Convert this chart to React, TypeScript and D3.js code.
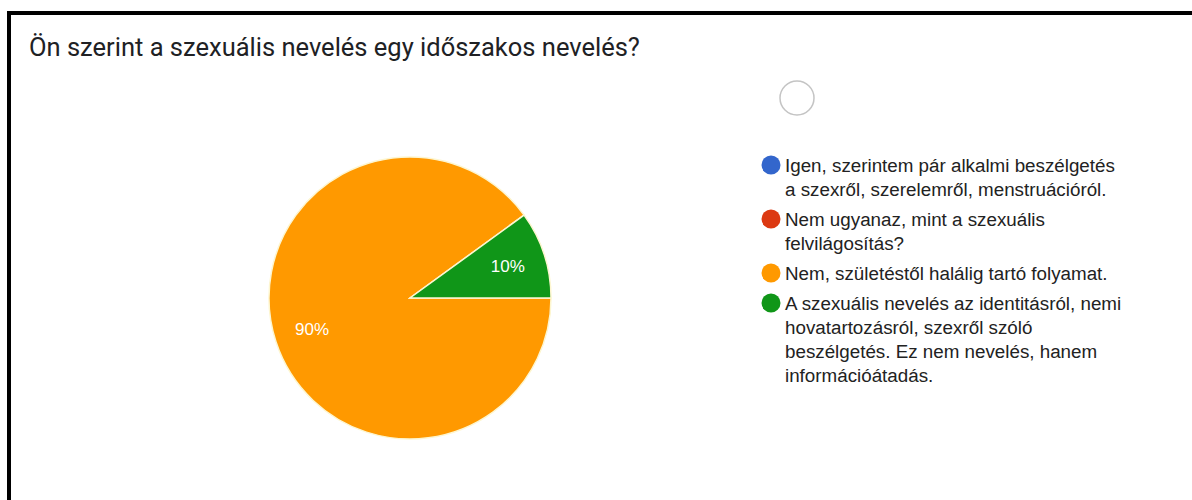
import React from "react";
import * as d3 from "d3";

const title = "Ön szerint a szexuális nevelés egy időszakos nevelés?";
const categories = [
  "Igen, szerintem pár alkalmi beszélgetés a szexről, szerelemről, menstruációról.",
  "Nem ugyanaz, mint a szexuális felvilágosítás?",
  "Nem, születéstől halálig tartó folyamat.",
  "A szexuális nevelés az identitásról, nemi hovatartozásról, szexről szóló beszélgetés. Ez nem nevelés, hanem információátadás.",
];
const legendLines = [
  ["Igen, szerintem pár alkalmi beszélgetés", "a szexről, szerelemről, menstruációról."],
  ["Nem ugyanaz, mint a szexuális", "felvilágosítás?"],
  ["Nem, születéstől halálig tartó folyamat."],
  ["A szexuális nevelés az identitásról, nemi", "hovatartozásról, szexről szóló", "beszélgetés. Ez nem nevelés, hanem", "információátadás."],
];
const values = [0, 0, 90, 10];
const colors = ["#3366cc", "#dc3912", "#ff9900", "#109618"];

export default function App() {
  const cx = 410, cy = 298, r = 141;
  const pie = d3
    .pie<number>()
    .sort(null)
    .startAngle(Math.PI / 2)
    .endAngle(Math.PI / 2 + 2 * Math.PI)
    .value((d) => d);
  const arcs = pie(values);
  const arc = d3.arc<d3.PieArcDatum<number>>().innerRadius(0).outerRadius(r);
  const labelArc = d3.arc<d3.PieArcDatum<number>>().innerRadius(r * 0.73).outerRadius(r * 0.73);
  const total = d3.sum(values);

  const lineH = 24;
  const entryGap = 6;
  let y = 165;
  const legendItems = legendLines.map((lines, i) => {
    const item = { y, lines, color: colors[i], key: categories[i] };
    y += lines.length * lineH + entryGap;
    return item;
  });

  return (
    <svg
      width={1192}
      height={500}
      style={{ position: "absolute", left: 0, top: 0, background: "#fff" }}
    >
      <rect x={9} y={13} width={1300} height={600} fill="#fff" stroke="#000" strokeWidth={4} />
      <text
        x={29}
        y={56}
        fontFamily="Roboto, Arial, sans-serif"
        fontSize={25.5}
        fill="#202124"
      >
        {title}
      </text>
      <circle cx={797} cy={98} r={17} fill="none" stroke="#c4c4c4" strokeWidth={1.5} />
      <g transform={`translate(${cx},${cy})`}>
        {arcs.map((a, i) =>
          a.value > 0 ? (
            <path key={i} d={arc(a) || ""} fill={colors[i]} stroke="#fdf6d0" strokeWidth={1.5} />
          ) : null
        )}
        {arcs.map((a, i) => {
          if (a.value <= 0) return null;
          const [lx, ly] = labelArc.centroid(a);
          return (
            <text
              key={"l" + i}
              x={lx}
              y={ly}
              textAnchor="middle"
              dominantBaseline="central"
              fontFamily="Arial, Liberation Sans, sans-serif"
              fontSize={17}
              fill="#fff"
            >
              {Math.round((a.value / total) * 100)}%
            </text>
          );
        })}
      </g>
      <g fontFamily="Arial, Liberation Sans, sans-serif" fontSize={18.8} fill="#222">
        {legendItems.map((it, i) => (
          <g key={i}>
            <circle cx={771} cy={it.y} r={9.5} fill={it.color} />
            {it.lines.map((ln, j) => (
              <text key={j} x={785} y={it.y + j * lineH} dominantBaseline="central">
                {ln}
              </text>
            ))}
          </g>
        ))}
      </g>
    </svg>
  );
}
